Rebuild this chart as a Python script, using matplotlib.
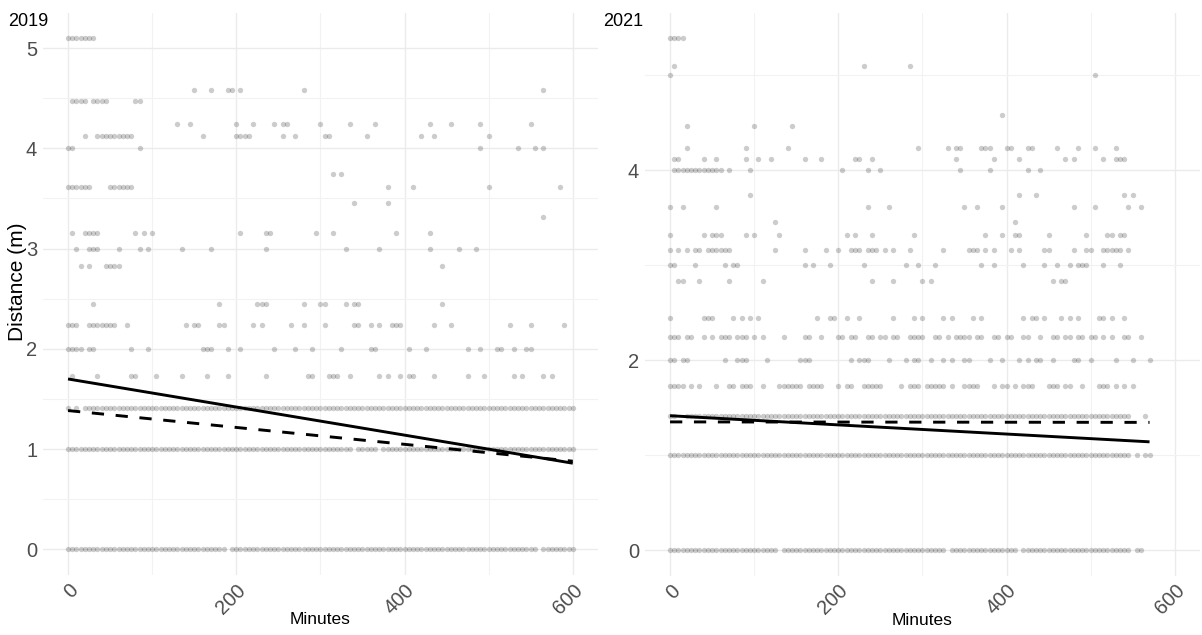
import numpy as np
import matplotlib
matplotlib.use("Agg")
import matplotlib.pyplot as plt
from matplotlib.ticker import MultipleLocator

plt.rcParams['font.family'] = ['Liberation Sans', 'DejaVu Sans']

# ---- data (distance levels in m, times in minutes) ----
levels_2019 = [5.10, 4.58, 4.47, 4.24, 4.12, 4.00, 3.74, 3.61, 3.46, 3.32,
               3.16, 3.00, 2.83, 2.45, 2.24, 2.00, 1.73]
times_2019 = [
    [0, 5, 10, 15, 20, 25, 30],
    [150, 170, 190, 195, 205, 280, 565],
    [5, 10, 15, 20, 30, 35, 40, 45, 80, 85],
    [130, 145, 200, 220, 245, 255, 260, 300, 335, 365, 430, 455, 490, 550],
    [20, 35, 40, 45, 50, 55, 60, 65, 70, 75, 160, 200, 205, 210, 215, 255, 270,
     305, 310, 355, 420, 435, 500],
    [0, 5, 85, 490, 535, 555, 565],
    [315, 325],
    [0, 5, 10, 15, 20, 25, 50, 55, 60, 65, 70, 75, 380, 410, 500, 585],
    [340, 380],
    [565],
    [5, 20, 25, 30, 35, 80, 90, 100, 205, 235, 240, 295, 315, 390, 430],
    [10, 25, 30, 35, 60, 85, 95, 135, 170, 235, 330, 370, 430, 465, 485],
    [15, 25, 45, 50, 55, 60, 445],
    [30, 180, 225, 230, 235, 280, 300, 305, 330, 340, 345, 445],
    [0, 5, 10, 25, 30, 35, 40, 45, 50, 55, 70, 140, 150, 155, 180, 185, 220, 230,
     265, 280, 305, 340, 345, 360, 370, 385, 390, 395, 435, 455, 525, 550, 590],
    [0, 5, 10, 15, 25, 30, 75, 95, 160, 165, 170, 190, 205, 245, 270, 290, 325,
     360, 365, 405, 425, 475, 490, 510, 515, 530, 545, 550],
    [5, 35, 75, 80, 105, 135, 165, 190, 235, 285, 290, 310, 315, 320, 335, 370,
     380, 395, 405, 410, 435, 475, 495, 530, 540, 565, 575],
]
# continuous rows sampled every 5 minutes: (first, last) runs
dense_levels_2019 = [1.41, 1.00, 0.00]
dense_runs_2019 = [
    [(0, 0), (10, 10), (20, 600)],
    [(0, 335), (345, 365), (375, 600)],
    [(0, 185), (195, 555), (565, 600)],
]

levels_2021 = [5.39, 5.10, 5.00, 4.58, 4.47, 4.24, 4.12, 4.00, 3.74, 3.61,
               3.46, 3.32, 3.16, 3.00, 2.83, 2.45, 2.24, 2.00, 1.73]
times_2021 = [
    [0, 5, 10, 15],
    [5, 230, 285],
    [0, 505],
    [395],
    [20, 100, 145],
    [20, 90, 140, 295, 330, 340, 345, 370, 375, 380, 400, 405, 425, 430, 460,
     485, 505, 530],
    [5, 10, 40, 55, 90, 105, 120, 160, 180, 220, 225, 240, 340, 385, 415, 470,
     480, 515, 530, 535, 540],
    [5, 10, 15, 20, 25, 30, 35, 40, 45, 50, 55, 60, 70, 95, 205, 235, 250, 345,
     380, 425, 440],
    [95, 415, 435, 540, 550],
    [0, 15, 55, 235, 260, 350, 365, 395, 480, 505, 545, 560],
    [125, 410],
    [0, 40, 50, 55, 60, 90, 100, 130, 210, 220, 240, 290, 375, 395, 410, 415,
     450, 495, 520, 525, 535, 540],
    [0, 10, 20, 30, 35, 45, 50, 55, 60, 65, 70, 125, 160, 185, 200, 215, 220,
     225, 235, 240, 245, 255, 265, 285, 325, 355, 360, 365, 375, 385, 405, 415,
     445, 450, 480, 495, 500, 515, 520, 525, 530, 535, 545],
    [0, 5, 30, 65, 75, 80, 160, 170, 190, 230, 280, 295, 315, 370, 385, 420,
     445, 460, 475, 485, 490, 495, 515, 535],
    [10, 15, 35, 70, 110, 240, 265, 300, 310, 455, 465, 470],
    [0, 40, 45, 50, 75, 85, 95, 105, 175, 190, 195, 210, 225, 265, 290, 300,
     325, 335, 360, 370, 420, 430, 435, 445, 465, 475, 485, 510, 515, 525, 540],
    [0, 5, 10, 20, 25, 40, 50, 60, 65, 70, 80, 85, 90, 100, 110, 135, 160, 165,
     180, 200, 205, 215, 220, 235, 240, 250, 255, 265, 270, 285, 290, 295, 300,
     315, 320, 330, 340, 345, 350, 355, 365, 370, 385, 390, 400, 405, 420, 425,
     440, 455, 460, 470, 475, 485, 490, 500, 505, 515, 525, 540, 545, 560],
    [0, 5, 15, 20, 65, 80, 85, 90, 115, 155, 160, 165, 215, 225, 230, 235, 260,
     280, 290, 295, 310, 325, 335, 350, 355, 380, 395, 415, 425, 435, 440, 455,
     480, 485, 500, 530, 550, 570],
    [0, 5, 10, 15, 25, 35, 55, 70, 75, 85, 90, 95, 110, 130, 135, 140, 145, 150,
     155, 165, 170, 175, 180, 200, 210, 215, 230, 235, 240, 245, 250, 275, 285,
     290, 295, 305, 310, 315, 320, 325, 335, 350, 355, 360, 365, 385, 395, 400,
     410, 420, 425, 430, 450, 455, 460, 470, 475, 490, 510, 515, 520, 530, 540,
     550],
]
dense_levels_2021 = [1.41, 1.00, 0.00]
dense_runs_2021 = [
    [(0, 5), (20, 50), (55, 545), (565, 565)],
    [(0, 545), (555, 555), (565, 570)],
    [(0, 125), (135, 325), (335, 410), (420, 545), (555, 560)],
]

# fitted lines (start/end)
fit_x_2019 = [0, 600]
solid_2019 = [1.70, 0.86]
dashed_2019 = [1.385, 0.88]
fit_x_2021 = [0, 570]
solid_2021 = [1.415, 1.14]
dashed_2021 = [1.35, 1.345]


def collect(levels, times, dense_levels, dense_runs):
    xs, ys = [], []
    for lev, t in zip(levels, times):
        xs += list(t)
        ys += [lev] * len(t)
    for lev, runs in zip(dense_levels, dense_runs):
        for a, b in runs:
            t = np.arange(a, b + 1, 5)
            xs += list(t)
            ys += [lev] * len(t)
    return np.array(xs), np.array(ys)


W, H = 1202, 635
fig = plt.figure(figsize=(W / 100, H / 100), dpi=100)
ax1 = fig.add_axes([42.8 / W, (H - 575) / H, 555.2 / W, 562.5 / H])
ax2 = fig.add_axes([644.8 / W, (H - 575.6) / H, 555.2 / W, 562.7 / H])

panels = [
    (ax1, levels_2019, times_2019, dense_levels_2019, dense_runs_2019,
     fit_x_2019, solid_2019, dashed_2019, "2019", 8),
    (ax2, levels_2021, times_2021, dense_levels_2021, dense_runs_2021,
     fit_x_2021, solid_2021, dashed_2021, "2021", 603),
]

for ax, lev, tim, dl, dr, fx, sol, das, title, tx in panels:
    x, y = collect(lev, tim, dl, dr)
    ax.scatter(x, y, s=15, color="black", alpha=0.2, linewidths=0, zorder=2)
    ax.plot(fx, sol, color="black", lw=2.1, solid_capstyle="butt", zorder=3)
    ax.plot(fx, das, color="black", lw=2.1, dashes=(4.2, 4.0), zorder=3)
    ax.set_xlim(-30, 630)
    ax.margins(y=0.05)
    ax.xaxis.set_major_locator(MultipleLocator(200))
    ax.xaxis.set_minor_locator(MultipleLocator(100))
    ax.grid(True, which="major", color="#EBEBEB", lw=1.0, zorder=0)
    ax.grid(True, which="minor", color="#F2F2F2", lw=0.8, zorder=0)
    ax.set_axisbelow(True)
    for s in ax.spines.values():
        s.set_visible(False)
    ax.tick_params(which="both", length=0, colors="#4D4D4D", labelsize=14.5)
    ax.tick_params(axis="y", pad=4)
    ax.tick_params(axis="x", pad=4)
    for lab in ax.get_xticklabels():
        lab.set_rotation(45)
        lab.set_ha("right")
        lab.set_va("top")
        lab.set_rotation_mode("anchor")
    ax.set_xlabel("Minutes", fontsize=12.5, color="black", va="center")
    ax.xaxis.set_label_coords(0.5, (575 - 620) / 562.5)
    fig.text(tx / W, (H - 25.7) / H, title, fontsize=13, ha="left",
             va="baseline", color="black")

ax1.yaxis.set_major_locator(MultipleLocator(1))
ax1.yaxis.set_minor_locator(MultipleLocator(0.5))
ax2.yaxis.set_major_locator(MultipleLocator(2))
ax2.yaxis.set_minor_locator(MultipleLocator(1))
ax1.set_ylabel("Distance (m)", fontsize=15, color="black", va="center")
ax1.yaxis.set_label_coords((18 - 42.8) / 555.2, (575 - 282) / 562.5)

fig.savefig("out.png", dpi=100, facecolor="white")
